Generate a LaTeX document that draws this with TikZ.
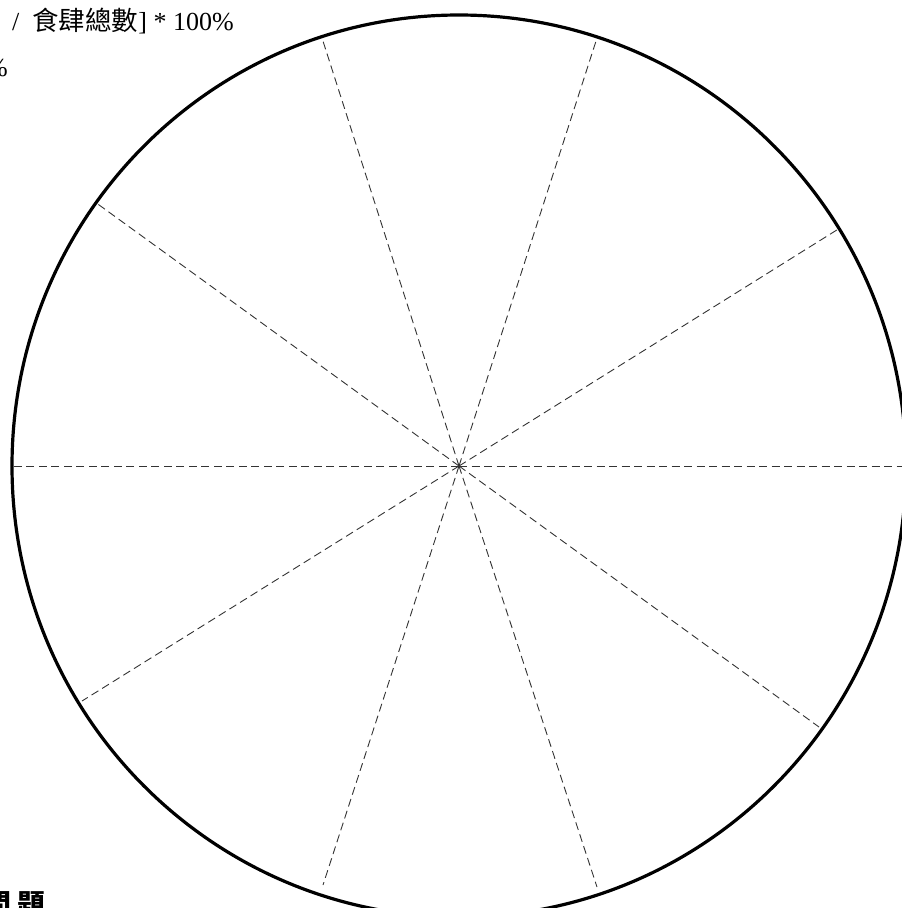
\documentclass[tikz,border=0pt]{standalone}
\usepackage{fontspec}
\setmainfont{Liberation Serif}
\newfontfamily\cjk{Noto Sans CJK TC}
\begin{document}
\begin{tikzpicture}[x=1pt,y=-1pt,
  rim/.style={line width=3.2pt,draw=black},
  ray/.style={line width=0.9pt,draw=black!80,dash pattern=on 8pt off 4.5pt},
  lbl/.style={inner sep=0pt,font=\fontsize{26}{30}\selectfont}]
\useasboundingbox (0,0) rectangle (902,908);
\coordinate (c) at (459,466);
\coordinate (e0) at (906,466);
\coordinate (e180) at (12,466);
\coordinate (e32) at (840,228);
\coordinate (e212) at (82,701);
\coordinate (e72) at (597,38);
\coordinate (e252) at (323,885);
\coordinate (e108) at (322,38);
\coordinate (e288) at (597,887);
\coordinate (e144) at (95,202);
\coordinate (e324) at (819,727);
\foreach \a in {0,180,32,212,72,252,108,288,144,324}
  \draw[ray] (c) -- (e\a);
\draw[rim] (c) ellipse [x radius=447, y radius=451];
\node[lbl,anchor=base west] (t1) at (12,30) {/\hspace{13pt}{\fontsize{26.5}{30}\selectfont\cjk 食肆總數}] * 100\%};
\node[lbl,anchor=base east] (t2) at (8,76) {\%};
\node[lbl,anchor=base west,font=\fontsize{28}{30}\selectfont\cjk\bfseries] (t3) at (-17,914) {問\hspace{6pt}題};
\end{tikzpicture}
\end{document}
